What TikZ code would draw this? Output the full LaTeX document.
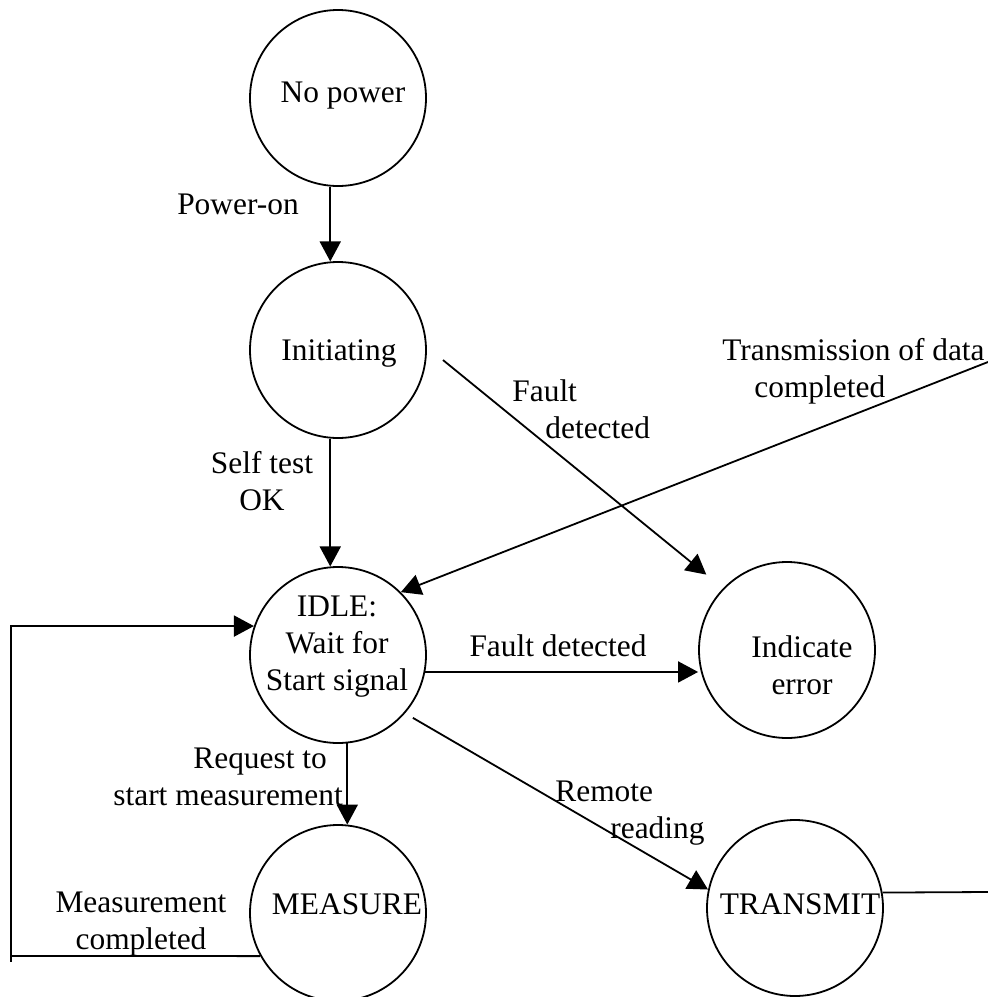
\documentclass[tikz,border=0pt]{standalone}
\usepackage{fontspec}
\setmainfont{Liberation Serif}
\usetikzlibrary{arrows.meta}
\begin{document}
\begin{tikzpicture}[x=0.5pt,y=-0.5pt,
  state/.style={draw,circle,minimum size=88pt,inner sep=0pt,line width=0.9pt},
  txt/.style={font=\fontsize{15.7}{18.5}\selectfont,inner sep=0pt},
  conn/.style={line width=0.9pt},
  arr/.style={conn,-{Triangle[length=10pt,width=10.5pt]}}]
\useasboundingbox (0,0) rectangle (988,997);

% states
\node[state] (nopower)  at (338,98)  {};
\node[state] (init)     at (338,350) {};
\node[state] (idle)     at (338,655) {};
\node[state] (measure)  at (338,913) {};
\node[state] (err)      at (787,650) {};
\node[state] (transmit) at (795,908) {};

% state names
\node[txt] (nopower-name) at (343,96) {No power};
\node[txt] (init-name) at (339,353) {Initiating};
\node[txt,align=center] (idle-name) at (337,647) {IDLE:\\Wait for\\Start signal};
\node[txt,align=center] (err-name) at (802,665) {Indicate\\error};
\node[txt] (measure-name) at (347,904) {MEASURE};
\node[txt] (transmit-name) at (800,904) {TRANSMIT};

% loose ends leaving the sheet on the right, and the return loop corner
\coordinate (txin)  at (988,362);
\coordinate (txout) at (988,892);
\coordinate (loopx) at (11,956);

% transitions
\draw[arr] (nopower.265) -- (init.95);
\draw[arr] (init.265) -- (idle.95);
\draw[arr] (idle.276) -- (measure.84);
\draw[arr] (idle.349) -- (idle.349 -| err.west);
\draw[arr,shorten <=10.4pt,shorten >=10.8pt] (init.2.7) -- (err.136.8);
\draw[arr,shorten <=4.5pt] (idle.-41.7) -- (transmit.168);
\draw[arr] (txin) -- (idle.45);
\draw[conn] (transmit.10.5) -- (txout);
\draw[arr] (measure.209) -- (loopx) |- (idle.161);
\draw[conn] (loopx) -- ([yshift=-3pt]loopx);

% transition labels
\node[txt] (lbl-poweron) at (238,204) {Power-on};
\node[txt,align=center] (lbl-selftest) at (262,481) {Self test\\OK};
\node[txt,align=left,anchor=west] (lbl-fault1) at (512,409) {Fault\\\hspace*{16.5pt}detected};
\node[txt,align=left,anchor=west] (lbl-tx) at (722,371) {Transmission of data\\\hspace*{16pt}completed};
\node[txt] (lbl-fault2) at (558,646) {Fault detected};
\node[txt,align=left,anchor=west] (lbl-request) at (113,777) {\hspace*{40pt}Request to\\start measurement};
\node[txt,align=left,anchor=west] (lbl-remote) at (555,813) {Remote\\\hspace*{27.5pt}reading};
\node[txt,align=center] (lbl-measdone) at (141,924) {Measurement\\completed};
\end{tikzpicture}
\end{document}
